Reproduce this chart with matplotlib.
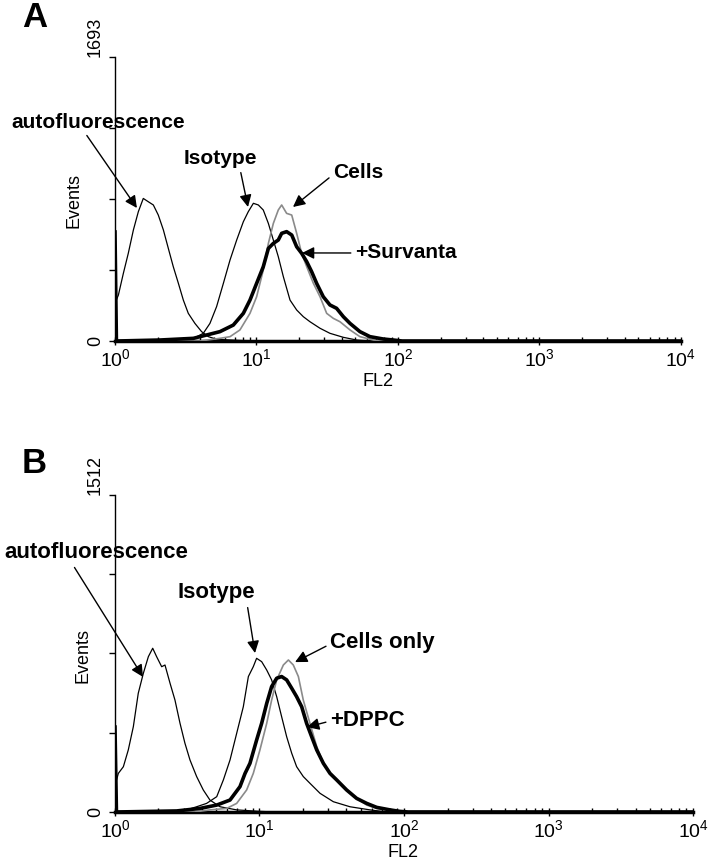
"""
Flow cytometry histograms (FL2) - panels A and B
"""

import matplotlib
matplotlib.use('Agg')
import matplotlib.pyplot as plt
import numpy as np
from matplotlib.ticker import LogLocator, NullFormatter

plt.rcParams['font.family'] = ['Liberation Sans', 'DejaVu Sans']
plt.rcParams['mathtext.fontset'] = 'custom'
plt.rcParams['mathtext.rm'] = 'Liberation Sans'

# ---- Panel A data (log10 FL2 channel, event counts) ----
ymax_a = 1693

auto_a_log = [0.0, 0.024, 0.059, 0.094, 0.130, 0.165, 0.200, 0.236, 0.271, 0.306,
              0.342, 0.377, 0.412, 0.448, 0.483, 0.518, 0.565, 0.612, 0.66, 0.72,
              0.9, 1.1, 4.0]
auto_a_cnt = [225, 274, 403, 523, 662, 771, 850, 830, 811, 751,
              662, 552, 443, 344, 244, 165, 105, 56, 26, 10,
              3, 0, 0]

iso_a_log = [0.0, 0.45, 0.554, 0.624, 0.671, 0.718, 0.766, 0.813, 0.860, 0.907,
             0.942, 0.978, 1.013, 1.048, 1.084, 1.119, 1.154, 1.190, 1.237, 1.284,
             1.331, 1.378, 1.449, 1.519, 1.614, 1.708, 1.80, 4.0]
iso_a_cnt = [0, 0, 15, 46, 105, 205, 344, 483, 602, 711,
             771, 821, 811, 781, 701, 602, 503, 383, 244, 185,
             145, 115, 76, 46, 22, 6, 0, 0]

cells_a_log = [0.0, 0.60, 0.742, 0.813, 0.883, 0.954, 1.001, 1.048, 1.084, 1.119,
               1.154, 1.178, 1.213, 1.249, 1.284, 1.319, 1.355, 1.402, 1.449, 1.496,
               1.543, 1.590, 1.661, 1.731, 1.826, 1.90, 4.0]
cells_a_cnt = [0, 0, 16, 26, 66, 165, 264, 423, 582, 701,
               781, 811, 761, 751, 642, 523, 443, 344, 264, 165,
               135, 115, 66, 26, 6, 0, 0]

surv_a_log = [0.0, 0.01, 0.318, 0.554, 0.648, 0.742, 0.836, 0.907, 0.954, 1.001,
              1.048, 1.084, 1.119, 1.154, 1.178, 1.213, 1.249, 1.284, 1.319, 1.355,
              1.390, 1.425, 1.472, 1.519, 1.566, 1.614, 1.661, 1.731, 1.802, 1.896,
              1.967, 2.03, 4.0]
surv_a_cnt = [650, 0, 6, 16, 36, 56, 95, 165, 244, 344,
              443, 552, 582, 602, 642, 652, 632, 562, 523, 473,
              413, 344, 264, 215, 195, 145, 105, 56, 26, 12,
              6, 0, 0]

# ---- Panel B data ----
ymax_b = 1512

auto_b_log = [0.0, 0.023, 0.058, 0.092, 0.127, 0.161, 0.196, 0.231, 0.261,
              0.288, 0.323, 0.346, 0.381, 0.415, 0.450, 0.484, 0.519, 0.565, 0.611,
              0.657, 0.727, 0.842, 1.0, 1.1, 4.0]
auto_b_cnt = [125, 184, 216, 296, 407, 566, 661, 741, 781,
              741, 693, 701, 614, 534, 423, 328, 248, 169, 105,
              57, 25, 10, 3, 0, 0]

iso_b_log = [0.0, 0.45, 0.565, 0.634, 0.704, 0.750, 0.796, 0.842, 0.888, 0.923,
             0.957, 0.980, 1.015, 1.050, 1.084, 1.119, 1.153, 1.188, 1.223, 1.257,
             1.303, 1.349, 1.419, 1.511, 1.626, 1.765, 1.88, 4.0]
iso_b_cnt = [0, 0, 25, 41, 73, 153, 248, 375, 502, 646,
             693, 733, 717, 677, 630, 550, 455, 359, 280, 216,
             169, 137, 89, 49, 25, 10, 0, 0]

cells_b_log = [0.0, 0.55, 0.657, 0.773, 0.842, 0.911, 0.957, 1.003, 1.050, 1.084,
               1.119, 1.165, 1.200, 1.234, 1.269, 1.303, 1.349, 1.396, 1.442, 1.488,
               1.534, 1.603, 1.672, 1.742, 1.811, 1.926, 2.0, 4.0]
cells_b_cnt = [0, 0, 10, 17, 41, 105, 184, 296, 423, 534,
               630, 701, 725, 701, 646, 534, 423, 312, 232, 184,
               153, 105, 65, 33, 17, 6, 0, 0]

dppc_b_log = [0.0, 0.01, 0.427, 0.588, 0.704, 0.796, 0.865, 0.900, 0.934, 0.980,
              1.015, 1.050, 1.084, 1.119, 1.153, 1.188, 1.223, 1.257, 1.292, 1.326,
              1.361, 1.396, 1.442, 1.488, 1.534, 1.603, 1.672, 1.742, 1.811, 1.903,
              1.97, 2.03, 4.0]
dppc_b_cnt = [405, 0, 5, 17, 33, 57, 121, 184, 232, 343,
              423, 518, 598, 638, 646, 630, 590, 550, 502, 423,
              359, 296, 232, 184, 153, 105, 65, 41, 22, 10,
              3, 0, 0]

# ---- annotation labels: (text, tip log10 FL2, tip count, text x, text y (axes frac), ha, relpos) ----
notes_a = [
    ('autofluorescence', 0.155, 793, -0.030, 0.771, 'center', (0.42, 0.0)),
    ('Isotype', 0.940, 799, 0.187, 0.641, 'center', (0.76, 0.0)),
    ('Cells', 1.258, 799, 0.385, 0.592, 'left', (0.0, 0.4)),
    ('+Survanta', 1.322, 525, 0.424, 0.310, 'left', (0.0, 0.5)),
]
notes_b = [
    ('autofluorescence', 0.194, 644, -0.033, 0.817, 'center', (0.37, 0.0)),
    ('Isotype', 0.969, 758, 0.176, 0.691, 'center', (0.89, 0.0)),
    ('Cells only', 1.246, 715, 0.372, 0.536, 'left', (0.0, 0.4)),
    ('+DPPC', 1.329, 405, 0.372, 0.290, 'left', (0.0, 0.45)),
]


def draw_panel(ax, curves, ymax, notes, note_size, ylab_xy, xlab_xy):
    for logs, cnts, color, lw in curves:
        ax.plot(10 ** np.array(logs), cnts, color=color, lw=lw, zorder=3)

    ax.set_xscale('log')
    ax.set_xlim(1, 1e4)
    ax.set_ylim(0, ymax)

    ax.xaxis.set_major_locator(LogLocator(base=10, numticks=10))
    ax.xaxis.set_minor_locator(LogLocator(base=10, subs=np.arange(2, 10), numticks=50))
    ax.xaxis.set_minor_formatter(NullFormatter())
    ax.tick_params(axis='x', which='major', direction='inout', length=6, width=1,
                   labelsize=14, pad=2)
    ax.tick_params(axis='x', which='minor', direction='in', length=3, width=1)

    ax.set_yticks(np.linspace(0, ymax, 5))
    ax.set_yticklabels(['0', '', '', '', str(ymax)], fontsize=13, rotation=90)
    ax.tick_params(axis='y', direction='out', length=4, width=1, pad=4)
    for lab in ax.get_yticklabels():
        lab.set_va('center')
    ax.get_yticklabels()[-1].set_va('bottom')

    for side in ['top', 'right']:
        ax.spines[side].set_visible(False)
    ax.spines['bottom'].set_linewidth(2.5)
    ax.spines['left'].set_linewidth(1)

    ax.set_ylabel('Events', fontsize=13)
    ax.yaxis.set_label_coords(*ylab_xy)
    ax.set_xlabel('FL2', fontsize=13)
    ax.xaxis.set_label_coords(*xlab_xy)

    for text, tip_log, tip_cnt, tx, ty, ha, rel in notes:
        ax.annotate(text, xy=(10 ** tip_log, tip_cnt), xycoords='data',
                    xytext=(tx, ty), textcoords='axes fraction',
                    ha=ha, va='center', fontsize=note_size, fontweight='bold',
                    arrowprops=dict(arrowstyle='-|>', color='black', lw=1,
                                    mutation_scale=18, shrinkA=1, shrinkB=0,
                                    relpos=rel),
                    annotation_clip=False, zorder=5)


fig = plt.figure(figsize=(7.16, 8.64), dpi=100)

ax_a = fig.add_axes([0.1606, 0.6053, 0.7905, 0.3287])
draw_panel(ax_a,
           [(auto_a_log, auto_a_cnt, 'black', 0.9),
            (iso_a_log, iso_a_cnt, 'black', 0.9),
            (cells_a_log, cells_a_cnt, '#8a8a8a', 1.2),
            (surv_a_log, surv_a_cnt, 'black', 2.6)],
           ymax_a, notes_a, 15, (-0.057, 0.496), (0.465, -0.113))

ax_b = fig.add_axes([0.1606, 0.0602, 0.8073, 0.3669])
draw_panel(ax_b,
           [(auto_b_log, auto_b_cnt, 'black', 0.9),
            (iso_b_log, iso_b_cnt, 'black', 0.9),
            (cells_b_log, cells_b_cnt, '#8a8a8a', 1.2),
            (dppc_b_log, dppc_b_cnt, 'black', 2.6)],
           ymax_b, notes_b, 16, (-0.040, 0.495), (0.498, -0.100))

fig.text(22 / 716, 1 - 1 / 864, 'A', fontsize=25, fontweight='bold', va='top', ha='left')
fig.text(22 / 716, 1 - 447 / 864, 'B', fontsize=25, fontweight='bold', va='top', ha='left')

fig.savefig('out.png', dpi=100)
plt.close(fig)
